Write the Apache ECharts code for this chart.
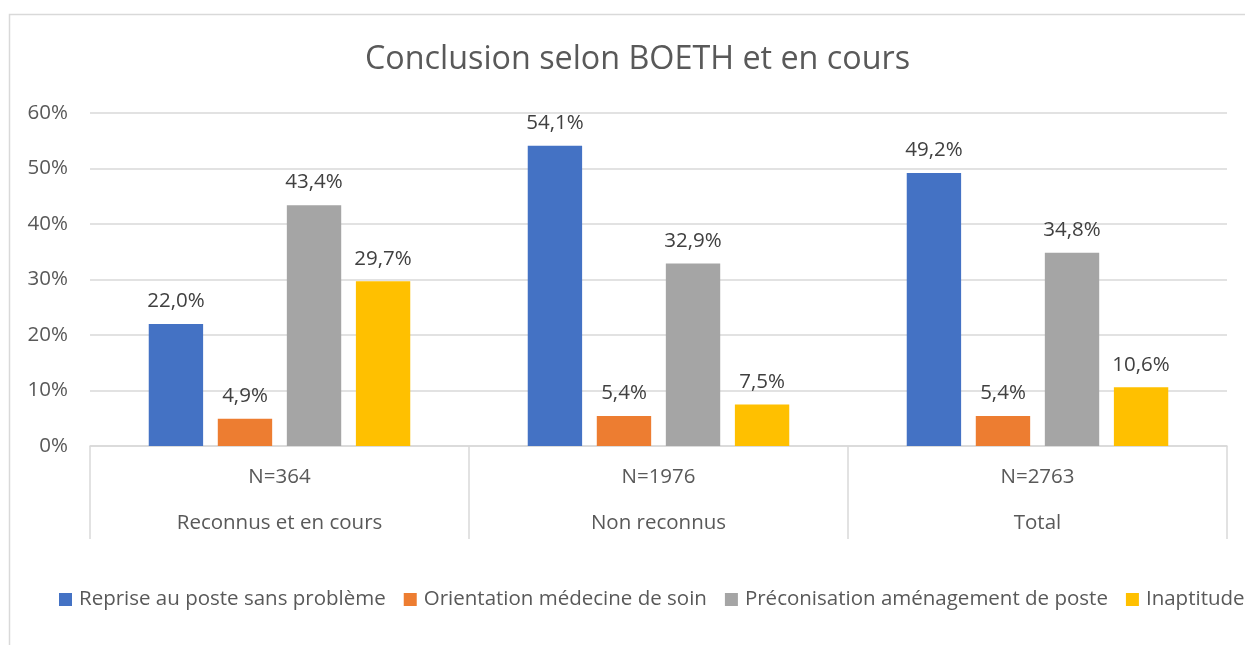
<!DOCTYPE html>
<html><head><meta charset="utf-8">
<script src="https://cdn.jsdelivr.net/npm/echarts@6/dist/echarts.min.js"></script>
<style>html,body{margin:0;padding:0;background:#fff}#c{width:1245px;height:645px}</style>
</head><body><div id="c"></div>
<script>
const categories = ['Reconnus et en cours', 'Non reconnus', 'Total'];
const sampleSizes = ['N=364', 'N=1976', 'N=2763'];
const seriesNames = ['Reprise au poste sans problème', 'Orientation médecine de soin', 'Préconisation aménagement de poste', 'Inaptitude'];
const reprise = [22.0, 54.1, 49.2];
const orientation = [4.9, 5.4, 5.4];
const preconisation = [43.4, 32.9, 34.8];
const inaptitude = [29.7, 7.5, 10.6];
const yTicks = [0, 10, 20, 30, 40, 50, 60];
const colors = ['#4472C4', '#ED7D31', '#A5A5A5', '#FFC000'];

const FONT = '"Open Sans"';
const FS = 20.5;
const chart = echarts.init(document.getElementById('c'), null, {renderer: 'canvas'});
const values = [reprise, orientation, preconisation, inaptitude];
chart.setOption({
  backgroundColor: '#fff',
  animation: false,
  color: colors,
  title: {
    text: 'Conclusion selon BOETH et en cours',
    left: 360, top: 39,
    textStyle: {fontFamily: FONT, fontSize: 32.3, fontWeight: 'normal', color: '#595959'}
  },
  graphic: [{
    type: 'rect', shape: {x: 9.5, y: 14.5, width: 1300, height: 700},
    style: {fill: 'none', stroke: '#d9d9d9', lineWidth: 1.5}, silent: true
  }],
  legend: {
    left: 54, top: 584, width: 3000,
    itemWidth: 13, itemHeight: 13, itemGap: 18,
    icon: 'rect',
    textStyle: {fontFamily: FONT, fontSize: FS, color: '#595959', padding: [0, 0, 0, 2]},
    data: seriesNames
  },
  grid: {left: 90, right: 18, top: 113, bottom: 199, containLabel: false},
  xAxis: {
    type: 'category',
    data: categories,
    axisLine: {lineStyle: {color: '#d9d9d9', width: 1.5}},
    axisTick: {show: true, length: 93, lineStyle: {color: '#d9d9d9', width: 1.5}},
    axisLabel: {
      margin: 8,
      formatter: (v, i) => '{n|' + sampleSizes[i] + '}\n{c|' + v + '}',
      rich: {
        n: {fontFamily: FONT, fontSize: FS, color: '#595959', lineHeight: 46},
        c: {fontFamily: FONT, fontSize: FS, color: '#595959', lineHeight: 46}
      }
    }
  },
  yAxis: {
    type: 'value', min: 0, max: 60, interval: 10,
    axisLabel: {fontFamily: FONT, fontSize: FS, color: '#595959', margin: 22,
      formatter: v => yTicks.includes(v) ? v + '%' : ''},
    splitLine: {lineStyle: {color: '#d9d9d9', width: 1.5}},
    axisLine: {show: false}, axisTick: {show: false}
  },
  series: seriesNames.map((name, k) => ({
    name, type: 'bar', data: values[k],
    barGap: '27%', barCategoryGap: '31%',
    label: {show: true, position: 'top', distance: 12,
      fontFamily: FONT, fontSize: FS, color: '#404040',
      formatter: p => p.value.toFixed(1).replace('.', ',') + '%'}
  }))
});
</script></body></html>
